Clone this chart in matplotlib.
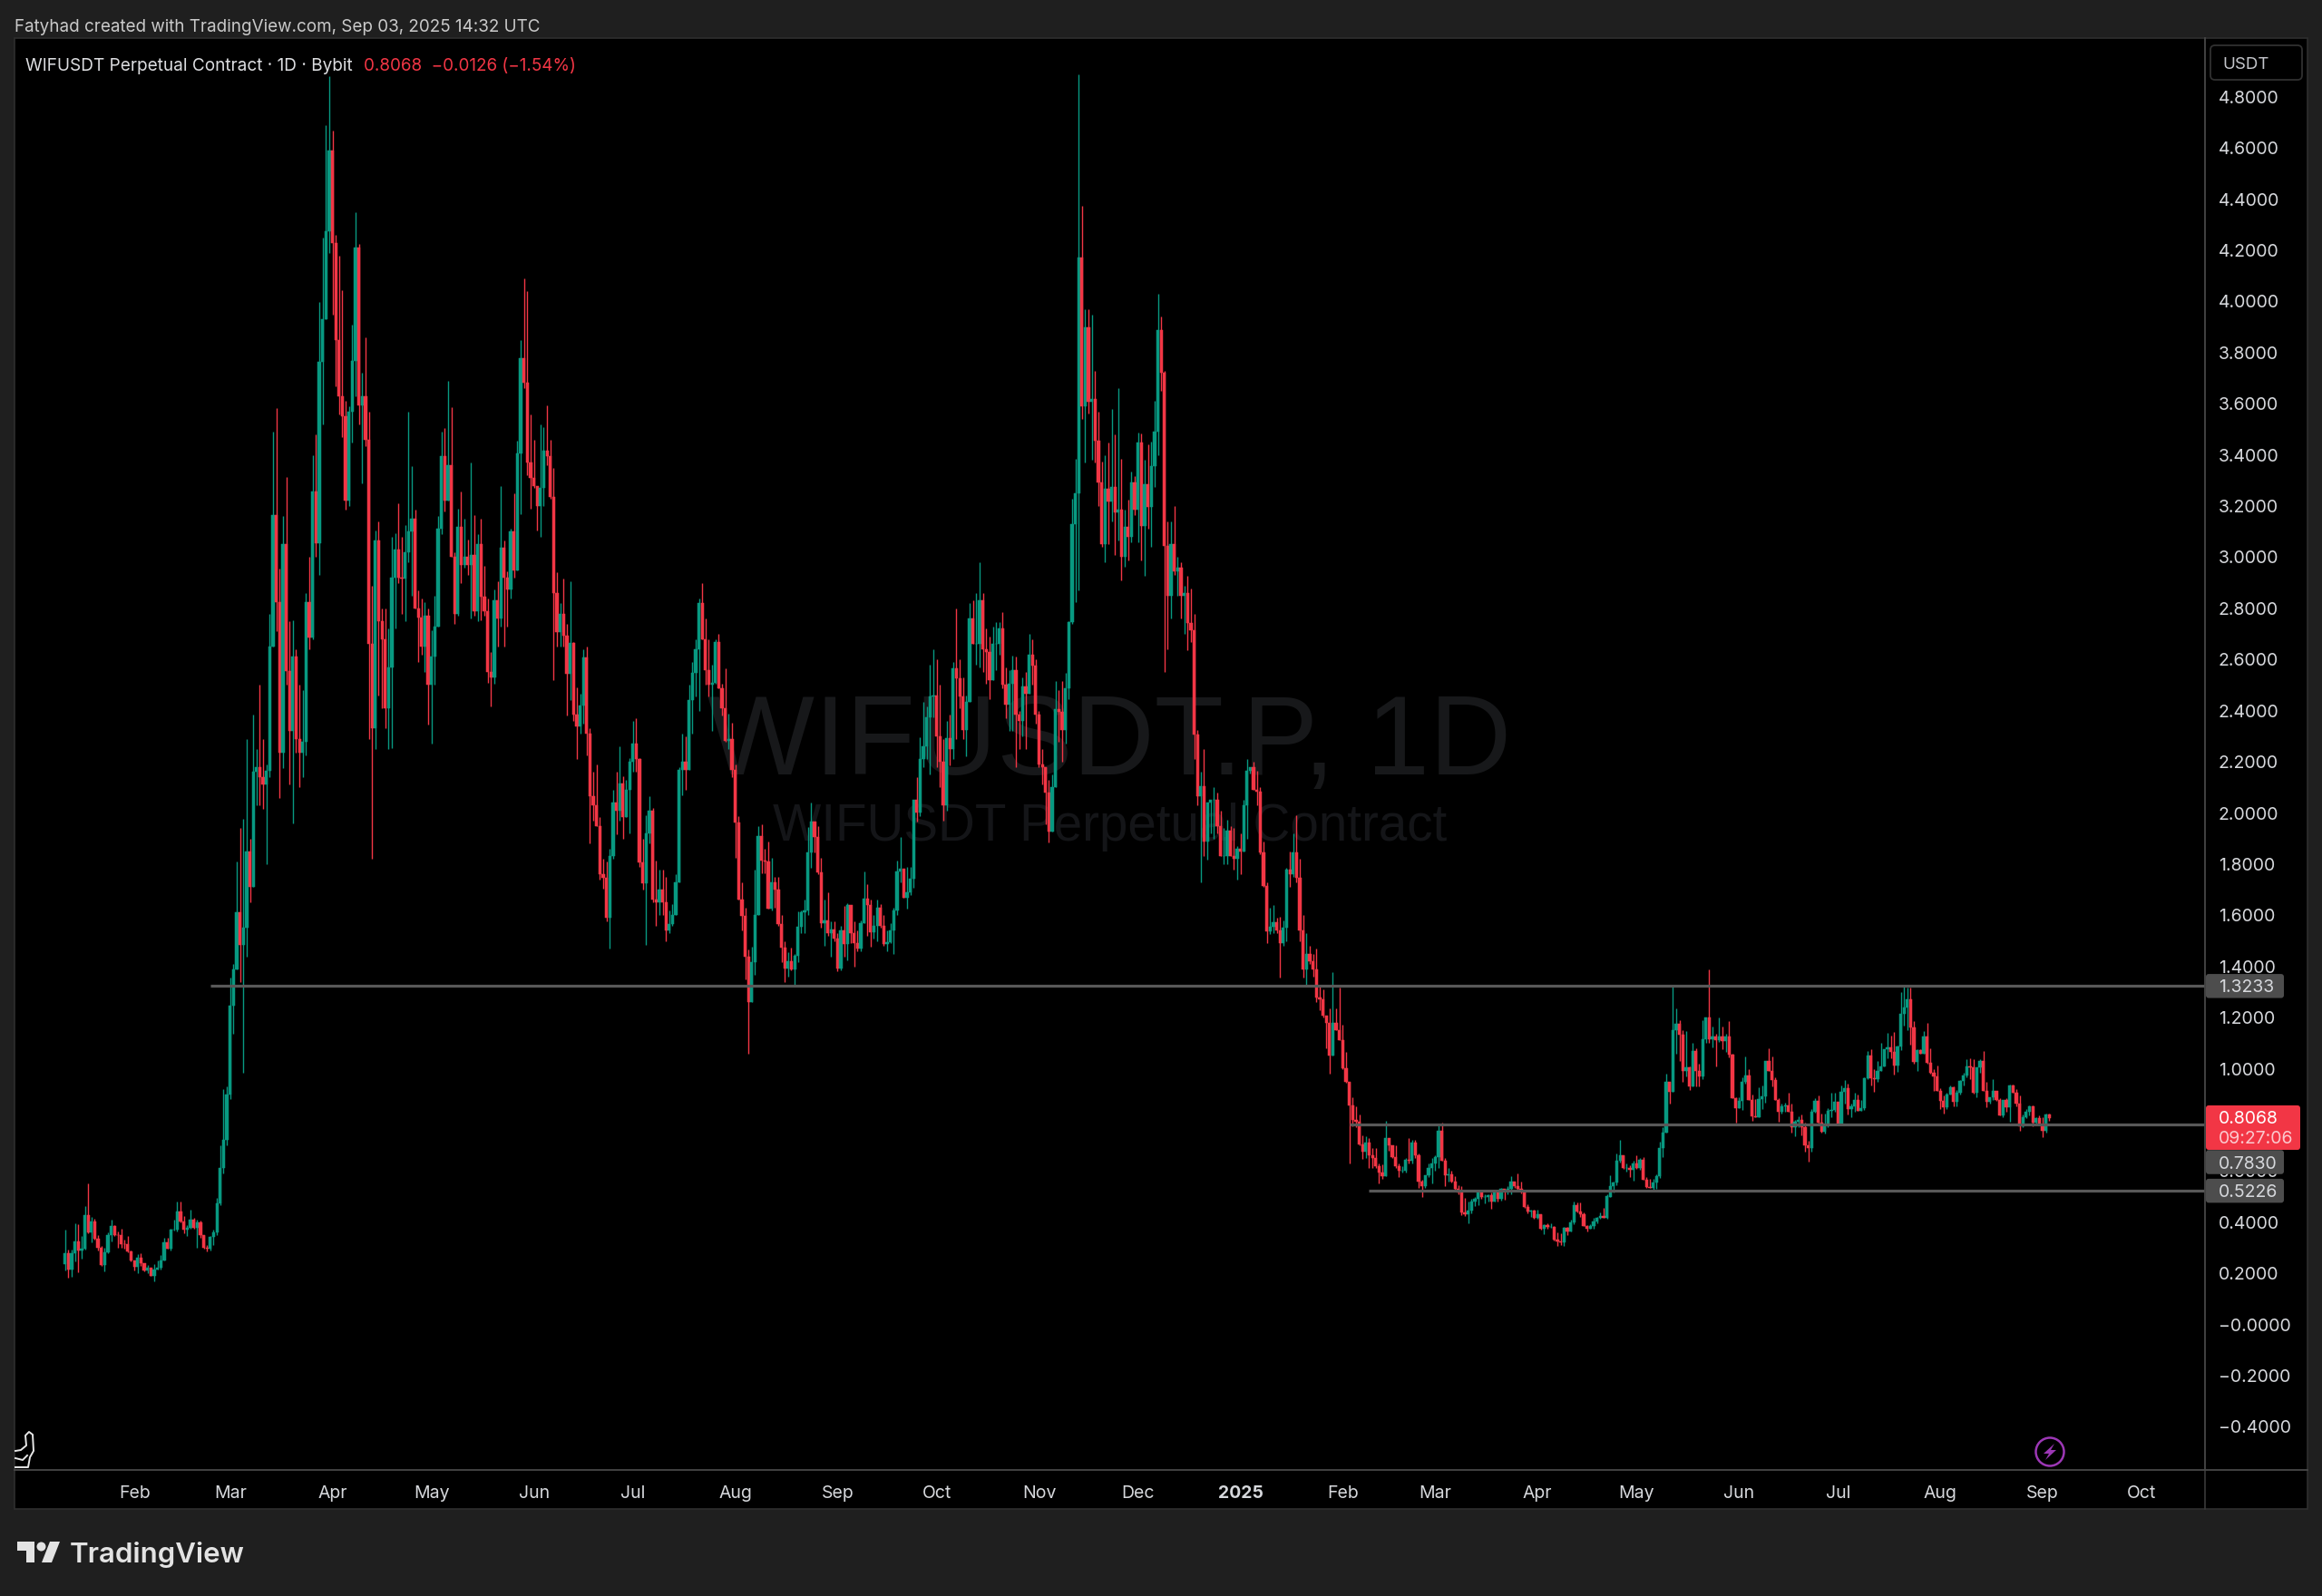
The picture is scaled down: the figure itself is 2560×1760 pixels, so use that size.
import numpy as np
import pandas as pd
import matplotlib
matplotlib.use("Agg")
import matplotlib.pyplot as plt
from matplotlib.patches import FancyBboxPatch, Rectangle, Circle, Polygon
from matplotlib.lines import Line2D
from matplotlib.transforms import IdentityTransform

plt.rcParams['font.family'] = ['Inter', 'DejaVu Sans']

first_open = 0.235
closes = [
 .28,.215,.28,.325,.29,.295,.427,.36,.404,.335,
 .30,.232,.283,.35,.386,.35,.348,.315,.313,.285,
 .25,.226,.26,.238,.21,.22,.19,.215,.222,.25,
 .32,.297,.37,.372,.44,.404,.37,.378,.41,.378,
 .40,.35,.30,.295,.343,.36,.475,.61,.72,.90,
 1.245,1.388,1.612,1.483,1.55,1.85,1.712,2.163,2.18,2.14,
 2.113,2.166,2.65,3.165,2.825,2.235,3.05,2.555,2.32,2.61,
 2.29,2.235,2.28,2.825,2.686,3.256,3.055,3.763,3.932,4.275,
 4.59,4.23,3.85,3.63,3.55,3.22,3.57,3.766,4.21,3.595,
 3.63,3.46,2.662,2.33,3.065,2.75,2.68,2.41,2.57,2.92,
 3.03,2.92,2.915,3.02,3.10,3.15,2.80,2.765,2.65,2.773,
 2.50,2.61,2.73,3.11,3.396,3.22,3.36,3.0,2.78,3.12,
 2.97,3.0,2.97,3.01,2.79,3.05,2.844,2.79,2.55,2.53,
 2.83,2.76,3.037,2.92,2.875,3.10,2.95,3.406,3.78,3.684,
 3.37,3.31,3.28,3.2,3.27,3.415,3.395,3.235,2.86,2.706,
 2.78,2.695,2.545,2.665,2.385,2.34,2.42,2.607,2.31,2.065,
 2.03,1.95,1.76,1.745,1.59,1.83,2.04,2.01,2.116,1.985,
 2.09,2.2,2.27,2.21,1.807,1.725,1.92,2.01,1.66,1.65,
 1.70,1.65,1.54,1.565,1.60,1.73,2.17,2.20,2.17,2.44,
 2.547,2.64,2.82,2.68,2.557,2.50,2.51,2.67,2.486,2.41,
 2.283,2.29,2.17,1.963,1.66,1.596,1.437,1.26,1.417,1.60,
 1.91,1.814,1.81,1.627,1.73,1.70,1.564,1.474,1.392,1.42,
 1.39,1.44,1.556,1.61,1.62,1.845,1.967,1.906,1.767,1.57,
 1.58,1.53,1.545,1.51,1.393,1.54,1.488,1.64,1.53,1.49,
 1.47,1.57,1.665,1.64,1.535,1.56,1.63,1.56,1.488,1.495,
 1.54,1.62,1.773,1.783,1.67,1.69,1.743,2.05,2.0,2.21,
 2.262,2.374,2.455,2.46,2.30,2.20,2.03,2.293,2.25,2.567,
 2.527,2.455,2.323,2.435,2.76,2.66,2.66,2.83,2.64,2.63,
 2.52,2.66,2.66,2.72,2.50,2.425,2.506,2.557,2.384,2.36,
 2.496,2.466,2.62,2.578,2.384,2.19,2.18,2.08,1.926,2.10,
 2.405,2.395,2.323,2.486,2.745,3.13,3.25,4.171,3.59,3.90,
 3.608,3.62,3.456,3.292,3.05,3.269,3.217,3.275,3.174,3.187,
 3.0,3.12,3.08,3.293,3.185,3.45,3.123,3.285,3.197,3.357,
 3.49,3.89,3.723,3.045,2.85,3.05,2.945,2.96,2.85,2.86,
 2.744,2.714,2.306,2.064,2.105,1.887,2.04,2.05,2.05,1.95,
 1.83,1.83,1.93,1.83,1.82,1.86,1.85,2.03,2.165,2.18,
 2.09,2.085,1.845,1.715,1.538,1.555,1.573,1.54,1.49,1.55,
 1.78,1.76,1.845,1.745,1.54,1.39,1.45,1.42,1.39,1.28,
 1.273,1.206,1.18,1.05,1.18,1.152,1.11,1.00,.947,.857,
 .80,.793,.703,.676,.71,.66,.65,.62,.595,.58,
 .73,.70,.655,.62,.60,.60,.645,.64,.71,.66,
 .558,.54,.585,.61,.63,.655,.757,.64,.585,.588,
 .56,.53,.515,.437,.43,.445,.48,.49,.52,.50,
 .50,.505,.48,.52,.49,.53,.52,.53,.56,.54,
 .53,.52,.46,.44,.446,.415,.43,.375,.39,.38,
 .38,.33,.325,.32,.378,.365,.40,.468,.44,.43,
 .386,.375,.386,.404,.416,.425,.416,.50,.54,.555,
 .64,.66,.61,.61,.605,.63,.61,.645,.565,.536,
 .535,.555,.58,.69,.75,.947,.91,1.15,1.174,1.133,
 .99,1.004,.93,1.07,.992,.97,1.115,1.20,1.115,1.125,
 1.11,1.125,1.107,1.125,1.054,.886,.847,.874,.947,.973,
 .879,.815,.812,.882,.891,1.03,.992,.957,.879,.831,
 .853,.856,.832,.77,.791,.80,.772,.70,.688,.832,
 .875,.79,.752,.78,.835,.84,.872,.782,.91,.924,
 .843,.853,.876,.835,.847,.962,1.05,.962,.958,.992,
 1.01,1.075,1.083,1.066,1.012,1.086,1.214,1.24,1.272,1.162,
 1.028,1.074,1.06,1.127,1.024,.985,.969,.914,.874,.85,
 .90,.926,.87,.906,.953,.973,1.009,1.006,.906,1.004,
 1.03,.914,.87,.888,.912,.876,.817,.876,.85,.935,
 .906,.862,.776,.811,.83,.853,.79,.805,.782,.757,
 .8194,.8068]
highs = [
 .37,.291,.291,.395,.392,.345,.462,.551,.42,.413,
 .35,.305,.30,.36,.408,.39,.365,.375,.33,.345,
 .29,.25,.275,.278,.24,.233,.218,.235,.25,.27,
 .34,.34,.375,.41,.48,.48,.425,.39,.45,.418,
 .41,.405,.35,.31,.345,.37,.495,.70,.92,.93,
 1.356,1.41,1.81,1.94,1.976,2.29,1.90,2.385,2.25,2.50,
 2.29,2.19,2.78,3.49,3.583,2.955,3.16,3.314,2.75,2.755,
 2.64,2.5,2.48,2.86,3.0,3.40,3.479,3.997,4.25,4.69,
 4.88,4.67,4.26,4.18,4.045,3.61,3.59,3.91,4.35,4.225,
 3.72,3.86,3.57,2.89,3.105,3.14,2.80,2.80,2.72,3.08,
 3.095,3.21,3.08,3.125,3.57,3.356,3.185,2.87,2.84,2.825,
 2.80,2.716,2.85,3.16,3.49,3.506,3.69,3.586,3.02,3.19,
 3.256,3.15,3.07,3.37,3.165,3.09,3.15,2.965,2.84,2.63,
 2.875,2.906,3.28,3.065,2.945,3.11,3.25,3.455,3.85,4.09,
 4.04,3.56,3.46,3.28,3.52,3.51,3.595,3.46,3.35,2.94,
 2.82,2.915,2.74,2.905,2.67,2.49,2.465,2.64,2.65,2.33,
 2.16,2.19,1.985,1.82,1.81,1.86,2.09,2.16,2.26,2.145,
 2.13,2.215,2.36,2.37,2.215,1.90,1.99,2.065,2.02,1.814,
 1.78,1.78,1.75,1.62,1.645,1.76,2.18,2.31,2.30,2.50,
 2.59,2.68,2.84,2.90,2.76,2.68,2.58,2.68,2.70,2.506,
 2.567,2.39,2.354,2.19,1.987,1.73,1.63,1.468,1.478,1.78,
 1.95,1.956,1.86,1.89,1.824,1.75,1.75,1.60,1.50,1.457,
 1.474,1.447,1.617,1.62,1.66,1.945,2.04,1.967,1.95,1.824,
 1.66,1.69,1.575,1.575,1.53,1.56,1.637,1.647,1.64,1.575,
 1.54,1.58,1.77,1.72,1.66,1.60,1.66,1.645,1.60,1.54,
 1.57,1.63,1.814,1.906,1.78,1.79,1.79,2.05,2.14,2.296,
 2.435,2.415,2.58,2.64,2.60,2.50,2.29,2.36,2.384,2.59,
 2.80,2.60,2.53,2.46,2.82,2.83,2.86,2.98,2.86,2.72,
 2.69,2.73,2.745,2.745,2.785,2.57,2.56,2.615,2.61,2.40,
 2.53,2.55,2.70,2.68,2.60,2.40,2.25,2.18,2.13,2.15,
 2.516,2.48,2.516,2.547,2.75,3.23,3.385,4.89,4.375,3.97,
 3.97,3.95,3.727,3.57,3.375,3.40,3.45,3.58,3.48,3.66,
 3.384,3.187,3.225,3.336,3.316,3.486,3.483,3.38,3.44,3.452,
 3.61,4.03,3.94,3.727,3.14,3.14,3.2,3.0,2.98,2.89,
 2.927,2.876,2.78,2.324,2.16,2.25,2.04,2.05,2.10,2.08,
 2.01,1.94,1.975,1.95,1.94,1.87,1.92,2.05,2.21,2.18,
 2.2,2.165,2.1,1.89,1.73,1.63,1.64,1.59,1.595,1.58,
 1.785,1.85,1.92,1.99,1.82,1.60,1.53,1.48,1.45,1.47,
 1.327,1.31,1.20,1.237,1.376,1.237,1.318,1.173,1.065,.947,
 .887,.853,.82,.74,.735,.73,.69,.69,.63,.625,
 .797,.73,.70,.70,.63,.62,.65,.73,.72,.72,
 .67,.565,.585,.63,.65,.66,.78,.788,.65,.61,
 .60,.58,.545,.54,.496,.48,.49,.498,.528,.522,
 .51,.51,.516,.524,.528,.534,.53,.54,.579,.56,
 .59,.557,.528,.469,.45,.447,.447,.43,.392,.394,
 .394,.386,.359,.356,.38,.38,.41,.48,.477,.477,
 .439,.39,.392,.416,.421,.439,.457,.51,.583,.56,
 .67,.72,.661,.628,.622,.64,.661,.652,.654,.575,
 .569,.569,.587,.713,.77,.98,.95,1.323,1.235,1.19,
 1.15,1.146,1.01,1.10,1.08,1.018,1.19,1.20,1.39,1.166,
 1.136,1.20,1.166,1.136,1.186,1.06,.888,.888,.967,1.048,
 .997,.90,.882,.926,.933,1.03,1.081,1.048,.965,.886,
 .865,.867,.906,.865,.80,.815,.82,.788,.717,.843,
 .886,.894,.823,.823,.847,.906,.906,.87,.933,.957,
 .94,.865,.906,.90,.876,.965,1.07,1.075,1.0,1.03,
 1.10,1.077,1.14,1.13,1.142,1.089,1.30,1.326,1.316,1.316,
 1.187,1.077,1.077,1.146,1.178,1.08,1.0,1.012,.924,.894,
 .906,.936,.93,.918,.957,.985,1.036,1.04,1.038,1.004,
 1.036,1.07,.947,.89,.96,.914,.886,.879,.886,.938,
 .938,.921,.894,.82,.841,.855,.855,.811,.817,.811,
 .823,.823]
lows = [
 .212,.183,.187,.246,.205,.256,.293,.355,.32,.33,
 .29,.23,.208,.28,.325,.345,.30,.30,.295,.283,
 .245,.212,.202,.23,.208,.2,.188,.17,.215,.215,
 .25,.295,.29,.366,.365,.40,.355,.345,.375,.375,
 .30,.34,.295,.285,.29,.31,.35,.465,.59,.70,
 .88,1.137,1.39,1.34,.984,1.437,1.65,1.71,2.03,2.03,
 2.015,1.80,2.14,2.65,2.71,2.06,2.175,2.5,2.11,1.96,
 2.235,2.1,2.14,2.225,2.64,2.68,3.0,2.93,3.518,3.93,
 4.19,3.95,3.67,3.56,3.47,3.185,3.2,3.45,3.63,3.52,
 3.29,3.435,2.29,1.82,2.25,2.46,2.41,2.33,2.25,2.255,
 2.72,2.90,2.78,2.75,2.98,2.85,2.80,2.59,2.62,2.55,
 2.345,2.27,2.5,2.73,3.09,3.18,3.224,3.0,2.74,2.77,
 2.90,2.96,2.93,2.76,2.77,2.75,2.755,2.77,2.51,2.415,
 2.505,2.65,2.73,2.65,2.73,2.84,2.92,2.95,3.17,3.66,
 3.32,3.19,3.27,3.105,3.08,3.2,3.36,3.227,2.52,2.65,
 2.65,2.65,2.38,2.44,2.36,2.21,2.31,2.35,2.225,1.88,
 1.97,1.95,1.74,1.705,1.575,1.47,1.82,1.915,1.97,1.90,
 1.985,1.92,2.16,2.16,1.79,1.70,1.485,1.88,1.65,1.56,
 1.60,1.60,1.50,1.53,1.56,1.60,1.73,2.07,2.09,2.17,
 2.31,2.455,2.40,2.68,2.50,2.455,2.32,2.505,2.486,2.38,
 2.28,2.25,2.14,1.825,1.66,1.54,1.35,1.06,1.26,1.366,
 1.60,1.763,1.763,1.627,1.62,1.63,1.56,1.417,1.34,1.36,
 1.385,1.325,1.417,1.53,1.53,1.60,1.787,1.845,1.76,1.55,
 1.482,1.52,1.437,1.50,1.38,1.385,1.437,1.423,1.49,1.40,
 1.46,1.46,1.57,1.52,1.478,1.51,1.50,1.55,1.48,1.458,
 1.49,1.448,1.60,1.73,1.67,1.625,1.68,1.706,1.967,1.987,
 2.18,2.21,2.15,2.374,2.18,2.1,1.97,2.01,2.187,2.21,
 2.29,2.41,2.29,2.22,2.435,2.66,2.58,2.57,2.55,2.505,
 2.445,2.54,2.56,2.62,2.486,2.37,2.32,2.32,2.18,2.25,
 2.30,2.25,2.466,2.50,2.35,2.18,2.11,1.956,1.885,1.926,
 2.10,2.28,2.20,2.27,2.445,2.74,2.826,2.87,3.54,3.37,
 3.563,3.38,3.37,3.20,3.04,2.98,3.05,3.14,3.01,3.065,
 2.91,2.963,2.988,3.06,3.164,3.06,2.986,2.927,3.11,3.04,
 3.275,3.40,3.65,2.55,2.64,2.76,2.93,2.85,2.76,2.70,
 2.635,2.67,2.21,2.03,1.727,1.83,1.816,1.92,1.90,1.92,
 1.83,1.80,1.80,1.83,1.78,1.74,1.76,1.85,1.90,2.155,
 2.09,2.03,1.84,1.71,1.49,1.525,1.53,1.53,1.355,1.48,
 1.50,1.71,1.75,1.73,1.50,1.355,1.32,1.41,1.36,1.26,
 1.23,1.20,1.08,.98,1.05,1.15,1.11,.998,.945,.63,
 .775,.77,.70,.648,.65,.612,.61,.61,.55,.57,
 .58,.68,.65,.61,.575,.595,.595,.63,.63,.65,
 .535,.498,.535,.575,.55,.60,.61,.64,.54,.56,
 .555,.52,.51,.427,.424,.395,.433,.463,.465,.492,
 .475,.48,.451,.48,.48,.484,.489,.508,.51,.534,
 .522,.513,.457,.433,.421,.413,.413,.37,.354,.374,
 .378,.327,.307,.309,.306,.351,.362,.392,.437,.421,
 .383,.362,.373,.374,.394,.413,.416,.413,.498,.516,
 .546,.634,.607,.599,.575,.563,.607,.605,.566,.534,
 .534,.522,.531,.573,.655,.749,.865,.91,1.06,1.03,
 .95,.97,.918,.93,.93,.93,.96,1.10,1.10,1.083,
 1.01,1.103,1.077,1.065,1.044,.886,.788,.847,.84,.94,
 .879,.796,.812,.812,.841,.867,.992,.93,.876,.794,
 .823,.831,.832,.75,.737,.77,.74,.675,.638,.675,
 .829,.787,.75,.746,.77,.81,.832,.782,.782,.865,
 .82,.81,.83,.835,.835,.84,.96,.933,.908,.95,
 .992,1.01,1.04,1.04,.977,.986,1.071,1.17,1.15,1.095,
 1.018,.992,1.06,1.06,1.02,.98,.912,.912,.843,.823,
 .843,.898,.853,.853,.90,.935,.965,.96,.903,.888,
 .985,.912,.85,.862,.876,.874,.817,.81,.832,.793,
 .906,.853,.758,.77,.806,.817,.776,.782,.782,.732,
 .75,.796]

start_date = "2024-01-11"
price_ticks = [-0.4, -0.2, 0.0, 0.2, 0.4, 0.6, 0.8, 1.0, 1.2, 1.4, 1.6, 1.8, 2.0, 2.2,
               2.4, 2.6, 2.8, 3.0, 3.2, 3.4, 3.6, 3.8, 4.0, 4.2, 4.4, 4.6, 4.8]
month_ticks = ["2024-02-01", "2024-03-01", "2024-04-01", "2024-05-01", "2024-06-01", "2024-07-01",
               "2024-08-01", "2024-09-01", "2024-10-01", "2024-11-01", "2024-12-01", "2025-01-01",
               "2025-02-01", "2025-03-01", "2025-04-01", "2025-05-01", "2025-06-01", "2025-07-01",
               "2025-08-01", "2025-09-01", "2025-10-01"]
month_labels = ["Feb", "Mar", "Apr", "May", "Jun", "Jul", "Aug", "Sep", "Oct", "Nov", "Dec", "2025",
                "Feb", "Mar", "Apr", "May", "Jun", "Jul", "Aug", "Sep", "Oct"]
levels = [1.3233, 0.7830, 0.5226]
level_starts = ["2024-02-24", "2025-02-03", "2025-02-09"]
level_labels = ["1.3233", "0.7830", "0.5226"]
last_price = 0.8068

W, H = 2560, 1760
BG = "#1f1f1f"
GREEN = "#089981"
RED = "#F23645"
GREY = "#585858"
TXT = "#d6d8dc"
SEP = "#3a3a3a"

def py(y):
    return H - y

fig = plt.figure(figsize=(W / 100, H / 100), dpi=100, facecolor=BG)
ident = IdentityTransform()

# black panel
fig.add_artist(Rectangle((16, py(1664)), 2528, 1622, transform=ident, fc="black", ec="#2e2e2e", lw=1.2, zorder=-1))

ax = fig.add_axes([16 / W, 1 - 1621 / H, (2431 - 16) / W, (1621 - 42) / H])
ax.set_facecolor("black")
ax.patch.set_alpha(0)

closes_a, highs_a, lows_a = map(np.array, (closes, highs, lows))
opens_a = np.r_[first_open, closes_a[:-1]]
dates = pd.date_range(start_date, periods=len(closes_a))
colors = [GREEN if c >= o else RED for o, c in zip(opens_a, closes_a)]
x = matplotlib.dates.date2num(dates)

x0 = x[0]
ax.set_xlim(x0 - (71.7 - 16) / 3.64, x0 + (2431 - 71.7) / 3.64)
ax.set_ylim((1460.5 - 1621) / 282, (1460.5 - 42) / 282)

# watermark
ax.text(0.5, 1 - (854 - 42) / 1579, "WIFUSDT.P, 1D", transform=ax.transAxes, ha="center", va="baseline",
        fontsize=90, color="#17181a", family=["Liberation Sans"], zorder=0.5)
ax.text(0.5, 1 - (927 - 42) / 1579, "WIFUSDT Perpetual Contract", transform=ax.transAxes, ha="center", va="baseline",
        fontsize=40.7, color="#141518", family=["Liberation Sans"], zorder=0.5)

ax.vlines(x, np.minimum(lows_a, np.minimum(opens_a, closes_a)), np.maximum(highs_a, np.maximum(opens_a, closes_a)),
          colors=colors, lw=1.0, zorder=1.5)
ax.bar(x, closes_a - opens_a, bottom=opens_a, width=0.88, color=colors, edgecolor=colors, linewidth=0.35, zorder=2)

for lvl, st in zip(levels, level_starts):
    ax.hlines(lvl, matplotlib.dates.date2num(pd.Timestamp(st)), ax.get_xlim()[1], colors=GREY, lw=2.3, zorder=2.2)

ax.yaxis.tick_right()
ax.set_yticks(price_ticks)
ax.set_yticklabels([("\u2212" + f"{abs(v):.4f}") if v <= 0 else f"{v:.4f}" for v in price_ticks],
                   color=TXT, fontsize=14)
ax.set_xticks(matplotlib.dates.date2num(pd.to_datetime(month_ticks)))
ax.set_xticklabels(month_labels, color=TXT, fontsize=14)
for lab, name in zip(ax.get_xticklabels(), month_labels):
    if name == "2025":
        lab.set_fontweight("bold")
ax.tick_params(axis="y", length=0, pad=10.5)
ax.tick_params(axis="x", length=0, pad=12)
for s in ("top", "left"):
    ax.spines[s].set_visible(False)
for s in ("bottom", "right"):
    ax.spines[s].set_color("#474747")
    ax.spines[s].set_linewidth(1.3)

# right-panel separator through the time axis and the bottom line across the scale
fig.add_artist(Line2D([2431, 2431], [py(1621), py(1664)], transform=ident, color=SEP, lw=1.2))
fig.add_artist(Line2D([2431, 2544], [py(1621), py(1621)], transform=ident, color="#474747", lw=1.3))

# price labels
def price_box(center_y, w, h, color, zorder=5):
    fig.add_artist(FancyBboxPatch((2432, center_y - h / 2), w, h, transform=ident,
                                  boxstyle="round,pad=0,rounding_size=3", fc=color, ec="none", zorder=zorder))

def y_of(v):
    return ax.transData.transform((x0, v))[1]

y1 = y_of(levels[0])
y3 = y_of(levels[2])
y2 = py(1281.5)
for yy, lab in zip((y1, y2, y3), level_labels):
    price_box(yy, 86, 26.5, "#4d4d4d")
    fig.text(2446, yy, lab, transform=ident, color=TXT, fontsize=14, va="center_baseline", ha="left", zorder=6)
yr = y_of(last_price) - 10.5
price_box(yr, 104, 49, RED, zorder=5.5)
fig.text(2446, yr + 11.5, f"{last_price:.4f}", transform=ident, color="white", fontsize=14, va="center_baseline", zorder=6)
fig.text(2446, yr - 10.5, "09:27:06", transform=ident, color="#fbc9ce", fontsize=14, va="center_baseline", zorder=6)

# header / legend
fig.text(16, py(28), "Fatyhad created with TradingView.com, Sep 03, 2025 14:32 UTC", transform=ident,
         color="#c9c9c9", fontsize=13.55, va="center_baseline", ha="left")
fig.text(28, py(71), "WIFUSDT Perpetual Contract \u00b7 1D \u00b7 Bybit", transform=ident, color="#dcdde0",
         fontsize=13.7, va="center_baseline", ha="left", zorder=6)
fig.text(401, py(71), "0.8068  \u22120.0126 (\u22121.54%)", transform=ident, color=RED,
         fontsize=13.6, va="center_baseline", ha="left", zorder=6)

# currency button
fig.add_artist(FancyBboxPatch((2437, py(88)), 101, 38, transform=ident, boxstyle="round,pad=0,rounding_size=5",
                              fc="black", ec="#303030", lw=1.3, zorder=5))
fig.text(2450, py(69), "USDT", transform=ident, color="#c4c6cb", fontsize=13.5, va="center_baseline", zorder=6)

# cursor icon bottom-left
for pts in ([(17, 1600), (23, 1599), (29, 1594), (28, 1583), (32, 1579), (36, 1582), (37, 1600), (33, 1607), (31, 1618), (17, 1618)],
            [(17, 1608), (25, 1610), (30, 1605)]):
    xs, ys = zip(*pts)
    fig.add_artist(Line2D(xs, [py(v) for v in ys], transform=ident, color="#e6e6e6", lw=1.4, zorder=6))

# bolt icon
fig.add_artist(Circle((2260, py(1601)), 15.5, transform=ident, fc="none", ec="#9c37b5", lw=1.8, zorder=6))
fig.add_artist(Polygon([(2265, py(1592)), (2253, py(1603)), (2259, py(1603)), (2255, py(1610)),
                        (2267, py(1599)), (2261, py(1599))], closed=True, transform=ident,
                       fc="#9c37b5", ec="none", zorder=6))

# logo
LOGO = "#e3e3e3"
fig.add_artist(Polygon([(19, py(1700)), (38, py(1700)), (38, py(1723)), (29, py(1723)), (29, py(1710)), (19, py(1710))],
                       closed=True, transform=ident, fc=LOGO, ec="none"))
fig.add_artist(Circle((45.5, py(1705.5)), 5, transform=ident, fc=LOGO, ec="none"))
fig.add_artist(Polygon([(55, py(1700)), (66, py(1700)), (57, py(1723)), (46, py(1723))], closed=True,
                       transform=ident, fc=LOGO, ec="none"))
fig.text(77, py(1723), "TradingView", transform=ident, color=LOGO, fontsize=22.5, fontweight="semibold",
         va="baseline", ha="left")

fig.savefig("out.png", dpi=100, facecolor=BG)
print(len(closes), len(highs), len(lows))
